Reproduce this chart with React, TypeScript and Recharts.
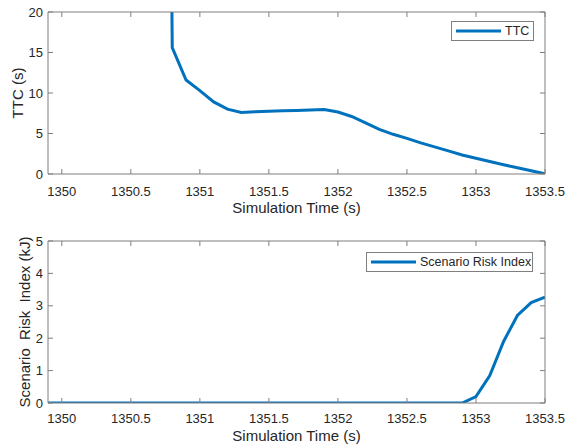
import { LineChart, Line, XAxis, YAxis, Legend } from 'recharts'

const timeStamps = [
  1349.9, 1350.0, 1350.1, 1350.2, 1350.3, 1350.4, 1350.5, 1350.6, 1350.7, 1350.8,
  1350.9, 1351.0, 1351.1, 1351.2, 1351.3, 1351.4, 1351.5, 1351.6, 1351.7, 1351.8,
  1351.9, 1352.0, 1352.1, 1352.2, 1352.3, 1352.4, 1352.5, 1352.6, 1352.7, 1352.8,
  1352.9, 1353.0, 1353.1, 1353.2, 1353.3, 1353.4, 1353.5,
]

// TTC is undefined before the lead vehicle shows up; 1350.7 is off the top of the axis
const ttcValues = [
  null, null, null, null, null, null, null, null, 200, 15.6,
  11.6, 10.3, 8.9, 8.0, 7.6, 7.7, 7.75, 7.8, 7.85, 7.9,
  7.95, 7.65, 7.1, 6.3, 5.5, 4.9, 4.4, 3.85, 3.35, 2.85,
  2.35, 1.95, 1.55, 1.15, 0.77, 0.4, 0.02,
]

const riskValues = [
  0, 0, 0, 0, 0, 0, 0, 0, 0, 0,
  0, 0, 0, 0, 0, 0, 0, 0, 0, 0,
  0, 0, 0, 0, 0, 0, 0, 0, 0, 0,
  0, 0.2, 0.85, 1.9, 2.7, 3.1, 3.27,
]

const timeTicks = [1350, 1350.5, 1351, 1351.5, 1352, 1352.5, 1353, 1353.5]
const ttcTicks = [0, 5, 10, 15, 20]
const riskTicks = [0, 1, 2, 3, 4, 5]

const ttcData = timeStamps.map((t, i) => ({ t, ttc: ttcValues[i] }))
const riskData = timeStamps.map((t, i) => ({ t, risk: riskValues[i] }))

const BLUE = '#0072BD'
const AXIS = '#7f7f7f'
const TEXT = '#262626'
const FONT = '"Liberation Sans", Arial, Helvetica, sans-serif'
const X_DOMAIN: [number, number] = [1349.9, 1353.5]

const tickStyle = { fontSize: 13, fill: TEXT, fontFamily: FONT }
const tickLineStyle = { stroke: AXIS, strokeWidth: 1 }
const noLabel = () => ''

function LegendBox({ name, width }: { name: string; width: number }) {
  return (
    <div
      style={{
        width,
        height: 20,
        boxSizing: 'border-box',
        border: `1px solid ${AXIS}`,
        background: '#fff',
        display: 'flex',
        alignItems: 'center',
        fontFamily: FONT,
        fontSize: 12.5,
        color: TEXT,
      }}
    >
      <svg width={50} height={10} style={{ marginLeft: 4 }}>
        <line x1={0} y1={5} x2={45} y2={5} stroke={BLUE} strokeWidth={3} />
      </svg>
      <span style={{ marginLeft: -1, whiteSpace: 'nowrap' }}>{name}</span>
    </div>
  )
}

// mirrored top/right axes so the plot gets a closed box with inward ticks
function boxAxes(yDomain: [number, number], yTicks: number[]) {
  return [
    <XAxis
      key="xt"
      xAxisId="top"
      orientation="top"
      dataKey="t"
      type="number"
      domain={X_DOMAIN}
      ticks={timeTicks}
      height={1}
      tickSize={-5}
      tickLine={tickLineStyle}
      tickFormatter={noLabel}
      stroke={AXIS}
      allowDataOverflow
    />,
    <YAxis
      key="yr"
      yAxisId="right"
      orientation="right"
      type="number"
      domain={yDomain}
      ticks={yTicks}
      width={1}
      tickSize={-5}
      tickLine={tickLineStyle}
      tickFormatter={noLabel}
      stroke={AXIS}
      allowDataOverflow
    />,
  ]
}

export default function App() {
  return (
    <div style={{ position: 'absolute', left: 0, top: 0, width: 568, height: 446, background: '#fff' }}>
      <LineChart width={568} height={220} data={ttcData} margin={{ top: 11, right: 22, left: 8, bottom: 0 }}>
        <XAxis
          dataKey="t"
          type="number"
          domain={X_DOMAIN}
          ticks={timeTicks}
          height={46}
          tickSize={-5}
          tickMargin={18}
          tick={tickStyle}
          tickLine={tickLineStyle}
          stroke={AXIS}
          allowDataOverflow
          label={{ value: 'Simulation Time (s)', position: 'insideBottom', offset: 7, style: { fontSize: 15, fill: TEXT, fontFamily: FONT } }}
        />
        <YAxis
          type="number"
          domain={[0, 20]}
          ticks={ttcTicks}
          width={40}
          tickSize={-5}
          tickMargin={10}
          tick={tickStyle}
          tickLine={tickLineStyle}
          stroke={AXIS}
          allowDataOverflow
          label={{ value: 'TTC (s)', angle: -90, position: 'insideLeft', offset: 10, style: { textAnchor: 'middle', fontSize: 15, fill: TEXT, fontFamily: FONT } }}
        />
        {boxAxes([0, 20], ttcTicks)}
        <Legend
          layout="horizontal"
          verticalAlign="middle"
          align="center"
          wrapperStyle={{ left: 451, top: 21, width: 83, height: 21 }}
          content={() => <LegendBox name="TTC" width={83} />}
        />
        <Line
          dataKey="ttc"
          stroke={BLUE}
          strokeWidth={3}
          dot={false}
          connectNulls={false}
          isAnimationActive={false}
        />
      </LineChart>
      <LineChart width={568} height={226} data={riskData} margin={{ top: 20, right: 22, left: 8, bottom: 0 }}>
        <XAxis
          dataKey="t"
          type="number"
          domain={X_DOMAIN}
          ticks={timeTicks}
          height={43}
          tickSize={-5}
          tickMargin={16}
          tick={tickStyle}
          tickLine={tickLineStyle}
          stroke={AXIS}
          allowDataOverflow
          label={{ value: 'Simulation Time (s)', position: 'insideBottom', offset: 5, style: { fontSize: 15, fill: TEXT, fontFamily: FONT } }}
        />
        <YAxis
          type="number"
          domain={[0, 5]}
          ticks={riskTicks}
          width={40}
          tickSize={-5}
          tickMargin={10}
          tick={tickStyle}
          tickLine={tickLineStyle}
          stroke={AXIS}
          allowDataOverflow
          label={{ value: 'Scenario\u00A0 Risk\u00A0 Index (kJ)', angle: -90, position: 'insideLeft', offset: 17, style: { textAnchor: 'middle', fontSize: 15, fill: TEXT, fontFamily: FONT } }}
        />
        {boxAxes([0, 5], riskTicks)}
        <Legend
          layout="horizontal"
          verticalAlign="middle"
          align="center"
          wrapperStyle={{ left: 366, top: 32, width: 167, height: 21 }}
          content={() => <LegendBox name="Scenario Risk Index" width={167} />}
        />
        <Line
          dataKey="risk"
          stroke={BLUE}
          strokeWidth={3}
          dot={false}
          isAnimationActive={false}
        />
      </LineChart>
    </div>
  )
}
